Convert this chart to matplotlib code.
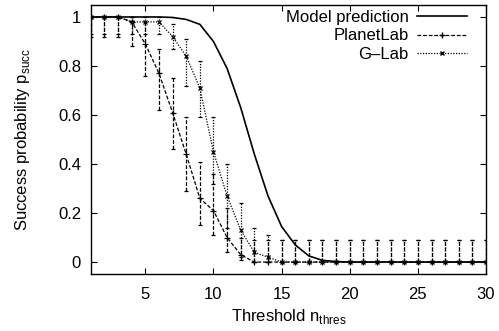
import matplotlib
matplotlib.use('Agg')
import matplotlib.pyplot as plt
from matplotlib.lines import Line2D
import numpy as np

plt.rcParams['font.family'] = ['Liberation Sans', 'DejaVu Sans']
plt.rcParams['font.size'] = 12

n = np.arange(1, 31)

# model prediction (success probability)
model = [1, 1, 1, 1, 1, 1, 0.998, 0.99, 0.97, 0.90, 0.79, 0.63, 0.44, 0.27, 0.145,
         0.07, 0.025, 0.007, 0.002] + [0] * 11

planet = [1, 1, 1, 0.98, 0.89, 0.77, 0.61, 0.44, 0.26, 0.21, 0.10, 0.03] + [0] * 18
planet_lo = [0.08, 0.08, 0.08, 0.10, 0.13, 0.15, 0.15, 0.15, 0.11, 0.10, 0.06, 0.02] + [0] * 18
planet_hi = [0, 0, 0, 0.02, 0.09, 0.10, 0.14, 0.15, 0.15, 0.15, 0.12, 0.07] + [0.09] * 18

glab = [1, 1, 1, 0.98, 0.98, 0.98, 0.92, 0.84, 0.71, 0.45, 0.27, 0.13, 0.04, 0.02] + [0] * 16
glab_lo = [0.07, 0.07, 0.07, 0.05, 0.05, 0.05, 0.05, 0.12, 0.12, 0.13, 0.13, 0.11, 0.04, 0.02] + [0] * 16
glab_hi = [0, 0, 0, 0.02, 0.02, 0.02, 0.05, 0.07, 0.11, 0.14, 0.13, 0.11, 0.10, 0.09] + [0.09] * 16

fig = plt.figure(figsize=(4.99, 3.31), dpi=100)
ax = fig.add_axes([0.182, 0.172, 0.792, 0.813])

ax.plot(n, model, color='black', lw=1.2)
eb1 = ax.errorbar(n, planet, yerr=[planet_lo, planet_hi], color='black', lw=0.9, ls=(0, (3, 1.5)),
                  marker='+', ms=4, mew=0.9, capsize=1.5, elinewidth=0.9)
eb1[2][0].set_linestyle((0, (3, 1.5)))
eb2 = ax.errorbar(n, glab, yerr=[glab_lo, glab_hi], color='black', lw=0.9, ls=(0, (1, 1.2)),
                  marker='x', ms=3.5, mew=0.9, capsize=1.5, elinewidth=0.9)
eb2[2][0].set_linestyle((0, (1, 1.2)))

ax.set_xlim(1, 30)
ax.set_ylim(-0.049, 1.049)
ax.set_xticks([5, 10, 15, 20, 25, 30])
ax.set_yticks([0, 0.2, 0.4, 0.6, 0.8, 1])
ax.set_yticklabels(['0', '0.2', '0.4', '0.6', '0.8', '1'])
ax.tick_params(direction='in', top=True, right=True, length=4, labelsize=12)
ax.tick_params(axis='x', pad=9)
ax.tick_params(axis='y', pad=7)
for s in ax.spines.values():
    s.set_linewidth(1.0)

ax.set_xlabel(r'Threshold n$_{\mathregular{thres}}$', labelpad=4)
ax.set_ylabel(r'Success probability p$_{\mathregular{succ}}$', labelpad=19)

handles = [
    Line2D([], [], color='black', lw=1.2),
    Line2D([], [], color='black', lw=0.9, ls=(0, (3, 1.5)), marker='+', ms=4),
    Line2D([], [], color='black', lw=0.9, ls=(0, (1, 1.2)), marker='x', ms=3.5),
]
ax.legend(handles, ['Model prediction', 'PlanetLab', 'G\u2013Lab'], loc='upper right',
          frameon=False, markerfirst=False, handlelength=3.0, handletextpad=0.5,
          labelspacing=0.22, borderaxespad=0.1, fontsize=12, bbox_to_anchor=(0.973, 1.013))

fig.savefig('out.png', dpi=100)
